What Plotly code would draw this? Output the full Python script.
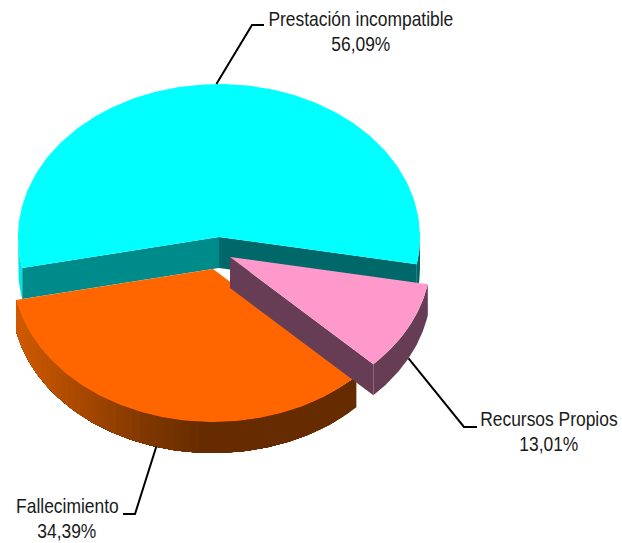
import math
import plotly.graph_objects as go

# --- data ---
categories = ["Prestación incompatible", "Fallecimiento", "Recursos Propios"]
slice_shares = [56.09, 34.39, 9.52]          # share of the circle each drawn slice takes
label_values = ["56,09%", "34,39%", "13,01%"]  # as printed on the chart

# --- styling / geometry ---
W, H = 622, 543
RX, RY, DEPTH = 201, 153, 31
START = 168.3  # degrees, y pointing down, growing clockwise on screen
APEX = {"cyan": (219, 237), "orange": (213, 269), "pink": (230, 257)}
FONT = dict(family="'Liberation Sans', Arial, sans-serif", size=20.5, color="#1a1a1a")
TEXT_SQUEEZE = 0.85  # the reference uses a condensed cut of the face

spans = [s / sum(slice_shares) * 360 for s in slice_shares]
a0 = START
a1 = a0 + spans[0]
a2 = a1 + spans[2]
a3 = a2 + spans[1]
cyan_rng = (a0, a1)
pink_rng = (a1, a2)
orange_rng = (a2, a3)


def pt(apex, deg, drop=0):
    r = math.radians(deg)
    return apex[0] + RX * math.cos(r), apex[1] + RY * math.sin(r) + drop


def arc(apex, d0, d1, drop=0, n=90):
    return [pt(apex, d0 + (d1 - d0) * i / n, drop) for i in range(n + 1)]


def poly(fig, pts, color):
    fig.add_trace(go.Scatter(
        x=[p[0] for p in pts] + [pts[0][0]],
        y=[p[1] for p in pts] + [pts[0][1]],
        mode="lines", fill="toself", fillcolor=color,
        line=dict(width=0), hoverinfo="skip", showlegend=False))


def band(fig, apex, d0, d1, color, n=90):
    poly(fig, arc(apex, d0, d1, n=n) + arc(apex, d1, d0, DEPTH, n=n), color)


def lerp_hex(stops, t):
    for (t0, c0), (t1, c1) in zip(stops, stops[1:]):
        if t <= t1:
            f = (t - t0) / (t1 - t0)
            return "#%02x%02x%02x" % tuple(round(a + (b - a) * f) for a, b in zip(c0, c1))
    return "#%02x%02x%02x" % stops[-1][1]


fig = go.Figure()

# cyan slice: side walls, rim, top
ca = APEX["cyan"]
poly(fig, [ca, pt(ca, cyan_rng[0]), pt(ca, cyan_rng[0], DEPTH), (ca[0], ca[1] + DEPTH)], "#008b8b")
poly(fig, [ca, pt(ca, cyan_rng[1]), pt(ca, cyan_rng[1], DEPTH), (ca[0], ca[1] + DEPTH)], "#006868")
band(fig, ca, cyan_rng[0], 180, "#00e6e6", n=20)
band(fig, ca, 360, cyan_rng[1], "#006868", n=20)
poly(fig, [ca] + arc(ca, *cyan_rng, n=180), "#00ffff")

# orange slice: shaded rim in overlapping strips, top
oa = APEX["orange"]
stops = [(0.0, (0x66, 0x2c, 0x00)), (0.45, (0x66, 0x2c, 0x00)),
         (0.62, (0x80, 0x37, 0x00)), (0.85, (0xb0, 0x4c, 0x00)), (1.0, (0xd0, 0x5a, 0x00))]
N = 50
step = (orange_rng[1] - orange_rng[0]) / N
x_right = pt(oa, orange_rng[0])[0]
x_left = pt(oa, orange_rng[1])[0]
for i in range(N):
    d0 = orange_rng[0] + step * i
    d1 = orange_rng[1]
    t = (x_right - pt(oa, d0 + step / 2)[0]) / (x_right - x_left)
    band(fig, oa, d0, d1, lerp_hex(stops, t), n=max(4, (N - i) * 3))
poly(fig, [oa] + arc(oa, *orange_rng, n=120), "#ff6600")

# pink slice: wall, rim, top
pa = APEX["pink"]
poly(fig, [pa, pt(pa, pink_rng[1]), pt(pa, pink_rng[1], DEPTH), (pa[0], pa[1] + DEPTH)], "#663d55")
band(fig, pa, *pink_rng, "#663d55")
poly(fig, [pa] + arc(pa, *pink_rng, n=60), "#ff99cc")

# leader lines start at each slice's mid angle
leaders = [
    (pt(ca, sum(cyan_rng) / 2), (252, 25), (264, 25)),
    (pt(oa, sum(orange_rng) / 2, DEPTH), (135, 514), (123, 514)),
    (pt(pa, sum(pink_rng) / 2, DEPTH), (464, 427), (477, 427)),
]
for line in leaders:
    fig.add_trace(go.Scatter(x=[p[0] for p in line], y=[p[1] for p in line], mode="lines",
                             line=dict(color="black", width=2), hoverinfo="skip", showlegend=False))

# labels
label_pos = [(361, 18.5, 43.5), (67, 505.5, 530.5), (549, 418.5, 443.5)]
for name, val, (x, y1, y2) in zip(categories, label_values, label_pos):
    for text, y in ((name, y1), (val, y2)):
        fig.add_annotation(x=x, y=y, text=text, showarrow=False, font=FONT,
                           xanchor="center", yanchor="middle")

fig.update_layout(
    width=W, height=H, margin=dict(l=0, r=0, t=0, b=0),
    paper_bgcolor="white", plot_bgcolor="white", showlegend=False,
    xaxis=dict(range=[0, W], visible=False, fixedrange=True),
    yaxis=dict(range=[H, 0], visible=False, fixedrange=True),
)
POST = """
document.body.style.margin='0';
document.documentElement.style.overflow='hidden';
document.querySelectorAll('.annotation').forEach(function(a){
  var s=%s, box=a.getBoundingClientRect(), cx=box.left+box.width/2;
  var g=a.querySelector('.annotation-text-g');
  var m='translate('+cx+',0) scale('+s+',1) translate('+(-cx)+',0) ';
  g.setAttribute('transform', m+(g.getAttribute('transform')||''));
});
""" % TEXT_SQUEEZE
fig.write_html("out.html", config={"displayModeBar": False}, post_script=POST)
